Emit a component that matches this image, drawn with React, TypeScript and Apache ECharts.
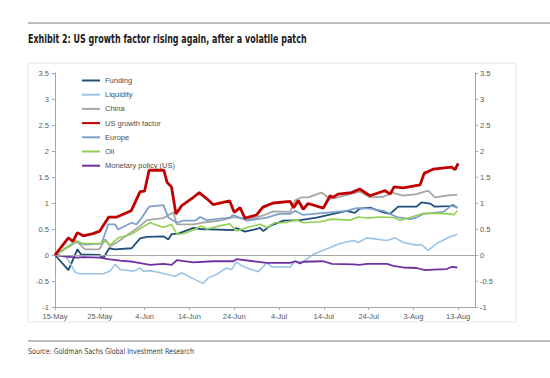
import React, { useEffect, useRef } from "react";
import * as echarts from "echarts";

// x = days since 15-May
const tickDays = [0, 10, 20, 30, 40, 50, 60, 70, 80, 90];
const tickLabels = ["15-May", "25-May", "4-Jun", "14-Jun", "24-Jun", "4-Jul", "14-Jul", "24-Jul", "3-Aug", "13-Aug"];

const funding = [[0,0],[3,-0.29],[5,0.11],[5.8,0.01],[10,0],[10.8,-0.06],[12.1,0.13],[13.4,0.11],[17.1,0.13],[19,0.32],[20.5,0.35],[24.2,0.36],[25.3,0.3],[26,0.4],[27.5,0.41],[30.9,0.52],[32.4,0.5],[39.8,0.48],[40.5,0.52],[42.4,0.45],[45,0.5],[45.8,0.52],[46.5,0.46],[48,0.56],[51,0.66],[54.7,0.67],[58.4,0.72],[62.1,0.79],[65.1,0.85],[66.9,0.81],[68,0.89],[70.3,0.91],[73.3,0.82],[74.8,0.79],[76.6,0.93],[80.7,0.93],[81.8,1.01],[83.7,0.99],[84.8,0.93],[88.2,0.94],[88.8,0.96],[89.8,0.91]];
const liquidity = [[0,0],[2.5,-0.03],[4.5,-0.33],[5.5,-0.36],[10.8,-0.36],[12.3,-0.31],[13.4,-0.18],[14.5,-0.28],[17.5,-0.31],[19,-0.25],[19.7,-0.31],[21.2,-0.3],[23.5,-0.34],[26.8,-0.41],[28.3,-0.34],[30.5,-0.44],[33.1,-0.55],[34.2,-0.44],[36.1,-0.37],[38.3,-0.25],[39.4,-0.28],[40.5,-0.13],[41.7,-0.21],[43.5,-0.27],[45.4,-0.32],[47.3,-0.15],[48.4,-0.23],[52.5,-0.23],[53.6,-0.12],[55.4,-0.13],[57.6,0.01],[62.1,0.17],[63.6,0.22],[66.6,0.28],[67.7,0.24],[69.6,0.33],[74.1,0.28],[75.9,0.33],[77.7,0.24],[80.7,0.19],[81.8,0.2],[83.3,0.09],[85.2,0.22],[88.2,0.35],[89.8,0.4]];
const china = [[0,0],[4.8,0.27],[6.7,0.11],[9.9,0.11],[11.2,0.3],[12.3,0.17],[13.8,0.24],[16.4,0.4],[19,0.56],[20.5,0.67],[24.2,0.71],[26.4,0.82],[27.2,0.59],[30.9,0.59],[32.7,0.62],[36.8,0.66],[39.8,0.73],[43.5,0.69],[46.5,0.76],[48.7,0.84],[52.5,0.83],[53.6,1.05],[55,1.11],[56.5,1.11],[59.5,1.2],[61.4,1.08],[63.2,1.11],[65.8,1.17],[68,1.22],[70.3,1.11],[73.3,1.12],[75.2,1.2],[77.7,1.14],[80.7,1.17],[83.3,1.24],[84.8,1.11],[87.4,1.14],[89.8,1.16]];
const usGrowth = [[0,0],[3,0.33],[4,0.26],[5,0.43],[6.3,0.37],[8.5,0.41],[10,0.46],[12,0.73],[13.8,0.73],[17,0.85],[19,1.22],[20,1.23],[21,1.63],[24.3,1.63],[25,1.4],[26,1.31],[27,0.79],[28.3,0.95],[30.9,1.11],[32.2,1.2],[33.9,1.08],[35.3,0.97],[39,1.04],[40,0.82],[41.3,0.91],[42.4,0.71],[45,0.77],[46.4,0.92],[48.7,1.0],[52.5,1.03],[53.3,0.91],[54.3,1.05],[55.4,0.88],[56.5,0.99],[59.9,0.9],[61.4,1.14],[62.1,1.11],[63.2,1.17],[66.2,1.2],[68,1.27],[70.3,1.14],[73.7,1.24],[74.8,1.17],[75.7,1.31],[77.7,1.29],[81.5,1.35],[82.4,1.57],[84.4,1.65],[88.5,1.69],[89.3,1.64],[90,1.76]];
const europe = [[0,0],[4.8,0.25],[6.7,0.2],[10.4,0.22],[11.9,0.59],[13.4,0.59],[14.1,0.49],[17.1,0.62],[18.2,0.59],[19.4,0.72],[21,0.93],[24.2,0.96],[25.3,0.72],[27.2,0.62],[28.6,0.66],[31.3,0.66],[32.4,0.73],[33.9,0.67],[39,0.72],[39.8,0.77],[42.8,0.66],[47.3,0.72],[50,0.79],[52.5,0.79],[53.6,0.85],[55.4,0.77],[61.4,0.82],[65.1,0.85],[67.3,0.9],[70.3,0.89],[73.3,0.85],[76.3,0.73],[79.2,0.69],[80.7,0.72],[82.2,0.79],[86.7,0.83],[88.5,0.95],[89.8,0.91]];
const oil = [[0,0],[4.8,0.27],[6.3,0.22],[10,0.22],[11.2,0.27],[12.3,0.19],[14.1,0.33],[17.1,0.4],[19,0.51],[21.2,0.62],[24.2,0.53],[26,0.59],[27.2,0.4],[28.6,0.41],[30.9,0.48],[32.7,0.56],[33.9,0.5],[36.8,0.56],[39,0.6],[40.5,0.46],[42.8,0.53],[45.8,0.59],[47.3,0.53],[49.1,0.62],[51,0.62],[54,0.67],[55.4,0.62],[59.2,0.64],[61.8,0.69],[65.8,0.67],[67.7,0.73],[69.6,0.71],[72.5,0.73],[75.5,0.72],[77,0.67],[79.2,0.72],[82.2,0.8],[85.2,0.8],[88.5,0.79],[89,0.77],[89.8,0.85]];
const monetary = [[0,0],[2.6,-0.03],[4.8,-0.05],[6.3,-0.04],[10,-0.05],[11.9,-0.08],[14.5,-0.11],[17.5,-0.13],[21.2,-0.19],[24.2,-0.17],[26,-0.19],[27.2,-0.1],[30.9,-0.14],[35.3,-0.12],[39.8,-0.12],[40.5,-0.08],[44.3,-0.12],[47.3,-0.15],[52.5,-0.15],[53.6,-0.12],[54.7,-0.16],[55.4,-0.13],[59.9,-0.12],[61.8,-0.17],[66.6,-0.18],[68,-0.19],[69.6,-0.17],[74.1,-0.17],[75.5,-0.21],[77.7,-0.24],[80.7,-0.25],[82.6,-0.29],[84.3,-0.28],[87.4,-0.27],[88.5,-0.23],[89.8,-0.24]];

const seriesDefs = [
  { name: "Funding", data: funding, color: "#1f4e79", width: 1.8 },
  { name: "Liquidity", data: liquidity, color: "#9dc3e6", width: 1.6 },
  { name: "China", data: china, color: "#a6a6a6", width: 1.8 },
  { name: "US growth factor", data: usGrowth, color: "#c00000", width: 2.8 },
  { name: "Europe", data: europe, color: "#7f9fcc", width: 1.8 },
  { name: "Oil", data: oil, color: "#92d050", width: 1.6 },
  { name: "Monetary policy (US)", data: monetary, color: "#7030a0", width: 1.8 },
];

const FONT = "Arial, 'Liberation Sans', sans-serif";
const NARROW = "'Liberation Sans Narrow', 'Arial Narrow', 'DejaVu Sans Condensed', sans-serif";

export default function App() {
  const ref = useRef<HTMLDivElement>(null);
  useEffect(() => {
    if (!ref.current) return;
    const chart = echarts.init(ref.current, null, { renderer: "svg" });
    const yAxisBase = (pos: "left" | "right", margin: number) => ({
      type: "value",
      position: pos,
      min: -1,
      max: 3.5,
      interval: 0.5,
      axisLine: { show: true, lineStyle: { color: "#a6a6a6", width: 1 } },
      axisTick: { show: true, length: 3, lineStyle: { color: "#a6a6a6" } },
      splitLine: { show: false },
      axisLabel: { color: "#595959", fontSize: 7.5, fontFamily: FONT, margin },
    });
    chart.setOption({
      animation: false,
      backgroundColor: "#ffffff",
      grid: { left: 55, right: 75, top: 73, bottom: 71, containLabel: false },
      xAxis: {
        type: "value",
        min: 0,
        max: 93.75,
        axisLine: { show: true, onZero: false, lineStyle: { color: "#a6a6a6", width: 1 } },
        axisTick: { show: true, length: 3, customValues: tickDays, lineStyle: { color: "#a6a6a6" } },
        splitLine: { show: false },
        axisLabel: {
          customValues: tickDays,
          color: "#595959",
          fontSize: 7.5,
          fontFamily: FONT,
          margin: 5,
          formatter: (v: number) => tickLabels[Math.round(v / 10)] ?? "",
        },
      },
      yAxis: [yAxisBase("left", 6), yAxisBase("right", 5)],
      legend: {
        orient: "vertical",
        left: 76,
        top: 71.5,
        itemWidth: 18,
        itemHeight: 8,
        itemGap: 6.2,
        textGap: 2,
        itemStyle: { opacity: 0 },
        textStyle: { color: "#4d4d4d", fontSize: 7.5, fontFamily: FONT },
        data: seriesDefs.map((s) => s.name),
      },
      graphic: [
        { type: "line", shape: { x1: 28, y1: 23, x2: 550, y2: 23 }, style: { stroke: "#a6a6a6", lineWidth: 1.5 } },
        { type: "line", shape: { x1: 28, y1: 341, x2: 550, y2: 341 }, style: { stroke: "#a6a6a6", lineWidth: 1.5 } },
        { type: "rect", shape: { x: 28, y: 63, width: 488, height: 259 }, style: { fill: "none", stroke: "#e3e3e3", lineWidth: 1 }, z: -1 },
        {
          type: "text",
          x: 28,
          y: 32,
          scaleX: 0.74,
          style: { text: "Exhibit 2: US growth factor rising again, after a volatile patch", fill: "#1a1a1a", font: `bold 12px ${NARROW}`, textVerticalAlign: "top" },
        },
        {
          type: "text",
          x: 28,
          y: 347,
          scaleX: 0.88,
          style: { text: "Source: Goldman Sachs Global Investment Research", fill: "#404040", font: `8px ${NARROW}`, textVerticalAlign: "top" },
        },
      ],
      series: seriesDefs.map((s, i) => ({
        name: s.name,
        type: "line",
        data: s.data,
        symbol: "none",
        showSymbol: false,
        z: s.name === "US growth factor" ? 5 : 3,
        lineStyle: { color: s.color, width: s.width },
        itemStyle: { color: s.color },
        emphasis: { disabled: true },
        ...(i === 0
          ? {
              markLine: {
                silent: true,
                symbol: "none",
                label: { show: false },
                lineStyle: { color: "#a6a6a6", width: 1, type: "solid" },
                data: [{ yAxis: 0 }],
              },
            }
          : {}),
      })),
    });
    return () => chart.dispose();
  }, []);
  return <div ref={ref} style={{ position: "fixed", left: 0, top: 0, width: 550, height: 378 }} />;
}
